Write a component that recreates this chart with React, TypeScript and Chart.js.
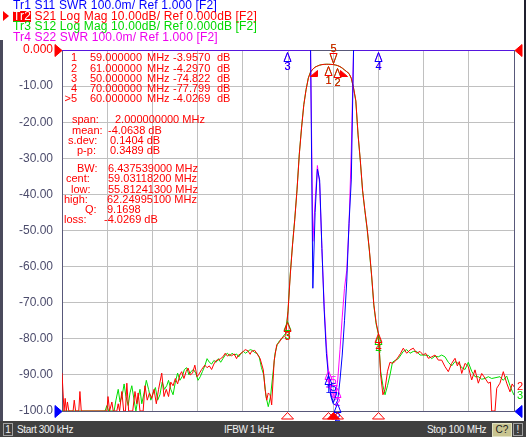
import React, { useEffect, useRef } from "react";
import { Chart, registerables } from "chart.js";

Chart.register(...registerables);

// ---------- axis setup ----------
const START_MHZ = 0.3;
const STOP_MHZ = 100;
const X_DIVISIONS = 10;
const DB_MIN = -100;
const DB_MAX = 0;
const DB_STEP = 10;
const SWR_MIN = 1;
const SWR_MAX = 2;

const yTickLabels = ["0.000", "-10.00", "-20.00", "-30.00", "-40.00", "-50.00", "-60.00", "-70.00", "-80.00", "-90.00", "-100.0"];

// ---------- traces: [frequency MHz, value] ----------
const s21Trace: number[][] = [
  [0.3, -89.5], [0.75, -100], [1.0, -96.5], [1.25, -100], [1.5, -97.5], [1.8, -100], [2.75, -100], [3.0, -97], [3.3, -100],
  [4.0, -100], [4.25, -94.6], [4.55, -100], [10.2, -100], [10.45, -96], [10.8, -100], [11.3, -97.5], [11.6, -100], [12.4, -100],
  [12.7, -98], [13.0, -100], [13.5, -94.6], [13.9, -100], [14.3, -100], [14.6, -92.3], [15.0, -100], [15.9, -100], [16.4, -94.6],
  [16.8, -98], [17.1, -95], [17.5, -100], [18.2, -100], [18.6, -93], [19.1, -97], [19.6, -95], [20.1, -96.5], [20.6, -94],
  [21.1, -98], [21.6, -94], [22.3, -89.5], [22.8, -96], [23.3, -94], [23.8, -96], [24.3, -92], [24.8, -93], [25.3, -91],
  [25.8, -92.5], [26.3, -90], [26.7, -89.1], [27.2, -91], [27.7, -89], [28.1, -88.1], [28.6, -90], [29.1, -89.5], [29.6, -87.3],
  [30.1, -90.5], [30.5, -89.8], [31.1, -88.5], [31.8, -87.3], [32.3, -88], [32.8, -87.5], [33.3, -88.5], [33.8, -87], [34.3, -86],
  [34.7, -85.9], [35.3, -85.5], [35.8, -85], [36.3, -84], [36.8, -84.8], [37.3, -84.3], [37.7, -84.7], [38.3, -84.2], [38.8, -85.5],
  [39.1, -84.7], [39.8, -84], [40.3, -83.5], [40.7, -83], [41.3, -83.3], [41.8, -84.3], [42.1, -83.5], [42.8, -83.2], [43.5, -84.5],
  [44.0, -85.5], [44.7, -88.6], [45.1, -94], [45.45, -97], [45.8, -95], [46.2, -95.5], [46.55, -98.3], [47.1, -86], [47.66, -81.7],
  [48.2, -81], [48.76, -79.8], [49.15, -79.5], [49.65, -79], [50.15, -72.5], [50.65, -62.3], [51.15, -54], [51.64, -47], [52.14, -38.8],
  [52.64, -29], [53.14, -21.6], [53.64, -15.2], [54.14, -11], [54.64, -7.8], [55.13, -6.1], [55.63, -5.3], [56.13, -4.75], [56.63, -4.45],
  [57.13, -4.2], [57.63, -4.05], [58.13, -3.98], [58.62, -3.95], [59.12, -3.96], [59.62, -3.99], [60.12, -4.03], [60.62, -4.15],
  [61.12, -4.33], [61.62, -4.6], [62.11, -5.0], [62.61, -5.5], [63.11, -6.0], [63.61, -6.5], [64.11, -7.8], [64.61, -10.5],
  [65.11, -14], [65.61, -23.5], [66.1, -30.5], [66.6, -38.8], [67.1, -44.3], [67.6, -49.3], [68.1, -55.4], [68.59, -62.3],
  [69.09, -70.6], [69.59, -75.5], [70.09, -78.5], [70.59, -90], [71.09, -95.5], [71.55, -94], [72.1, -89], [72.65, -86.5],
  [73.2, -86.8], [73.75, -86.3], [74.48, -85], [75.0, -84], [75.58, -82.6], [76.33, -84], [77.06, -83.1], [77.79, -82.6],
  [78.54, -84], [79.27, -83.5], [80.0, -84.5], [80.5, -84], [81.1, -85.4], [81.85, -85], [82.58, -84.5], [83.3, -85.9],
  [84.05, -85.9], [84.78, -87.7], [85.51, -89.1], [86.26, -86.8], [86.99, -85.4], [87.5, -87.5], [87.94, -86.3], [88.47, -89.6],
  [89.2, -86.8], [89.92, -87.7], [90.67, -91.4], [91.4, -88.6], [92.13, -92.3], [92.88, -89.6], [93.6, -90.9], [94.33, -92.3],
  [94.8, -92], [95.08, -100], [95.81, -100], [96.19, -93.7], [96.9, -92.3], [97.64, -89.1], [98.39, -92.3], [99.12, -94.7],
  [99.6, -92.5], [100, -93.3],
];

const s12Trace: number[][] = [
  [0.3, -100], [9.8, -100], [10.2, -98.5], [10.6, -100], [11.8, -100], [12.2, -97], [12.7, -94], [13.1, -97.5], [13.6, -95.5],
  [14.0, -92.5], [14.4, -96], [14.9, -98.5], [15.3, -95], [15.7, -93], [16.2, -97], [16.6, -100], [17.0, -97], [17.5, -94],
  [17.9, -98], [18.4, -95], [18.9, -91.5], [19.4, -94], [19.9, -97], [20.4, -95], [20.9, -93.5], [21.4, -97], [21.9, -95.5],
  [22.4, -92], [22.9, -94], [23.4, -93], [23.8, -91.5], [24.3, -94], [24.8, -95.5], [25.3, -92], [25.8, -89.5], [26.3, -91.5],
  [26.8, -90.5], [27.3, -88.5], [27.8, -88], [28.3, -90], [28.8, -89], [29.3, -88.5], [29.8, -89.5], [30.3, -91.5], [30.8, -90.5],
  [31.3, -89], [31.8, -87.5], [32.3, -85.5], [32.8, -86.5], [33.3, -87], [33.8, -86], [34.3, -86.5], [34.8, -85.5], [35.3, -86.5],
  [35.8, -85.5], [36.3, -84.5], [36.8, -84], [37.3, -84.8], [37.8, -84], [38.3, -84.5], [38.8, -84.2], [39.3, -85], [39.8, -84],
  [40.3, -83.5], [40.8, -84], [41.3, -83.5], [41.8, -83], [42.3, -83.2], [42.8, -83.8], [43.3, -84], [43.8, -85], [44.3, -88],
  [44.8, -90], [45.3, -96], [45.8, -98.8], [46.3, -96], [46.8, -90], [47.3, -84], [47.8, -81.5], [48.3, -80.5], [48.8, -80],
  [49.15, -79.2], [49.65, -78.5], [50.15, -72.2], [50.65, -62], [51.15, -53.8], [51.64, -46.8], [52.14, -38.6], [52.64, -28.8],
  [53.14, -21.5], [53.64, -15.1], [54.14, -10.9], [54.64, -7.7], [55.13, -6.05], [55.63, -5.28], [56.13, -4.74], [56.63, -4.44],
  [57.13, -4.19], [57.63, -4.05], [58.13, -3.98], [58.62, -3.95], [59.12, -3.96], [59.62, -3.99], [60.12, -4.03], [60.62, -4.16],
  [61.12, -4.34], [61.62, -4.62], [62.11, -5.02], [62.61, -5.52], [63.11, -6.02], [63.61, -6.55], [64.11, -7.85], [64.61, -10.6],
  [65.11, -14.2], [65.61, -23.6], [66.1, -30.7], [66.6, -39], [67.1, -44.5], [67.6, -49.6], [68.1, -55.7], [68.59, -62.6],
  [69.09, -70.8], [69.59, -75.9], [70.09, -78.8], [70.59, -89], [71.09, -93], [71.55, -95.5], [72.1, -93], [72.65, -90],
  [73.2, -86.5], [73.75, -86], [74.48, -85.5], [75.58, -83.5], [76.33, -83], [77.06, -84], [77.79, -83.5], [78.54, -83.5],
  [79.27, -84.5], [80.0, -84.5], [81.1, -84.6], [81.85, -85.5], [82.58, -84.8], [83.3, -85], [84.05, -84.5], [84.78, -85],
  [85.51, -86.5], [86.26, -87.5], [86.99, -86.3], [87.94, -87], [88.47, -88], [89.2, -88.5], [89.92, -86.5], [90.67, -89],
  [91.4, -90.5], [92.13, -90.5], [92.88, -91.2], [93.6, -91], [94.33, -90.5], [95.08, -91], [95.81, -90.8], [96.9, -90.5],
  [97.64, -91.5], [98.39, -90.3], [99.12, -93], [99.6, -94.5], [100, -95.6],
];

const s11Trace: number[][] = [
  [0.3, 2.0], [54.64, 2.0], [55.13, 2.0], [55.63, 1.34], [56.13, 1.55], [56.63, 1.67], [57.13, 1.64], [57.63, 1.45],
  [58.13, 1.28], [58.62, 1.16], [59.12, 1.09], [59.62, 1.04], [60.12, 1.02], [60.62, 1.017], [61.12, 1.03], [61.62, 1.086],
  [62.11, 1.155], [62.61, 1.25], [63.11, 1.36], [63.61, 1.52], [64.11, 1.64], [64.61, 2.0], [100, 2.0],
];

const s22Trace: number[][] = [
  [0.3, 2.0], [55.13, 2.0], [55.63, 1.47], [56.13, 1.58], [56.63, 1.68], [57.13, 1.63], [57.63, 1.45], [58.13, 1.29],
  [58.62, 1.18], [59.12, 1.1], [59.62, 1.05], [60.12, 1.036], [60.62, 1.044], [61.12, 1.086], [61.62, 1.17], [62.11, 1.26],
  [62.61, 1.34], [63.11, 1.39], [63.61, 1.515], [64.11, 1.72], [64.61, 2.0], [100, 2.0],
];

// ---------- markers ----------
const markerNames = ["1", "2", "3", "4", "5"];
const markerFreqMHz = [59, 61, 50, 70, 60];
const activeMarker = 4;
const s21MarkerDb = [-3.957, -4.297, -74.822, -77.799, -4.0269];
const s12MarkerDb = [-3.96, -4.31, -74.6, -78.3, -4.03];
const s11MarkerSwr = [1.105, 1.027, 2.0, 2.0, 1.02];
const s22MarkerSwr = [1.12, 1.07, 2.0, 2.0, 1.04];

const statLabels = ["span:", "mean:", "s.dev:", "p-p:"];
const statValues = ["2.000000000 MHz", "-4.0638 dB", "0.1404 dB", "0.3489 dB"];
const bwLabels = ["BW:", "cent:", "low:", "high:", "Q:", "loss:"];
const bwValues = ["6.437539000 MHz", "59.03118200 MHz", "55.81241300 MHz", "62.24995100 MHz", "9.1698", "-4.0269 dB"];
const bwLowMHz = 55.812413;
const bwHighMHz = 62.249951;
const bwLevelDb = -7.0269;

const headerLines = [
  { tr: "Tr1", text: " S11 SWR 100.0m/ Ref 1.000 [F2]", color: "#0000ff" },
  { tr: "Tr2", text: " S21 Log Mag 10.00dB/ Ref 0.000dB [F2]", color: "#ff0000" },
  { tr: "Tr3", text: " S12 Log Mag 10.00dB/ Ref 0.000dB [F2]", color: "#00d800" },
  { tr: "Tr4", text: " S22 SWR 100.0m/ Ref 1.000 [F2]", color: "#ee00ee" },
];

// ---------- styles ----------
const C_BLUE = "#0000ff";
const C_RED = "#ff0000";
const C_GREEN = "#00dd00";
const C_MAGENTA = "#ff00ff";
const GRID = "#c0c0c0";
const FRAME = "#58587a";
const TICK = "#4c4c6c";
const FONT = '"Liberation Sans", Arial, sans-serif';

function drawTri(ctx: CanvasRenderingContext2D, pts: number[][], color: string, filled: boolean) {
  ctx.beginPath();
  ctx.moveTo(pts[0][0], pts[0][1]);
  for (let i = 1; i < pts.length; i++) ctx.lineTo(pts[i][0], pts[i][1]);
  ctx.closePath();
  if (filled) {
    ctx.fillStyle = color;
    ctx.fill();
  }
  ctx.strokeStyle = color;
  ctx.lineWidth = 1;
  ctx.stroke();
}

function drawMarkerSet(chart: any, values: number[], axisId: string, color: string) {
  const { ctx, chartArea: a } = chart;
  const xs = chart.scales.x;
  const ys = chart.scales[axisId];
  ctx.font = `11px ${FONT}`;
  ctx.textAlign = "center";
  ctx.textBaseline = "middle";
  values.forEach((v, i) => {
    const px = Math.round(xs.getPixelForValue(markerFreqMHz[i])) + 0.5;
    const py = Math.round(Math.min(Math.max(ys.getPixelForValue(v), a.top), a.bottom)) + 0.5;
    if (i === activeMarker) {
      drawTri(ctx, [[px - 3.5, py - 12], [px + 3.5, py - 12], [px, py - 2]], color, false);
      ctx.fillStyle = color;
      ctx.fillText(markerNames[i], px, py - 17);
    } else {
      drawTri(ctx, [[px, py + 2], [px - 3.5, py + 11], [px + 3.5, py + 11]], color, false);
      ctx.fillStyle = color;
      ctx.fillText(markerNames[i], px, py + 16);
    }
  });
}

const vnaPlugin = {
  id: "vnaOverlay",
  beforeDatasetsDraw(chart: any) {
    const { ctx, chartArea: a } = chart;
    ctx.save();
    ctx.strokeStyle = FRAME;
    ctx.lineWidth = 1;
    ctx.strokeRect(a.left + 0.5, a.top + 0.5, a.right - a.left, a.bottom - a.top);
    ctx.restore();
  },
  afterDatasetsDraw(chart: any) {
    const { ctx, chartArea: a } = chart;
    const xs = chart.scales.x;
    const yDb = chart.scales.y;
    const ySwr = chart.scales.swr;
    ctx.save();

    drawMarkerSet(chart, s12MarkerDb, "y", C_GREEN);
    drawMarkerSet(chart, s22MarkerSwr, "swr", C_MAGENTA);
    drawMarkerSet(chart, s11MarkerSwr, "swr", C_BLUE);
    drawMarkerSet(chart, s21MarkerDb, "y", C_RED);

    // bandwidth markers (filled)
    [bwLowMHz, bwHighMHz].forEach((f, k) => {
      const px = Math.round(xs.getPixelForValue(f)) + 0.5;
      const py = Math.round(yDb.getPixelForValue(bwLevelDb)) + 0.5;
      const pts = k === 0
        ? [[px + 3, py - 5], [px + 3, py + 1], [px - 4, py + 1]]
        : [[px - 3, py - 5], [px - 3, py + 1], [px + 4, py + 1]];
      drawTri(ctx, pts, C_RED, true);
    });

    // marker indicators below the grid
    markerFreqMHz.forEach((f, i) => {
      const px = Math.round(xs.getPixelForValue(f)) + 0.5;
      const top = a.bottom + 1.5;
      drawTri(ctx, [[px, top], [px - 6, top + 6.5], [px + 6, top + 6.5]], C_RED, i === activeMarker);
    });

    // reference level pointers
    const yRef = Math.round(yDb.getPixelForValue(DB_MAX)) + 0.5;
    const ySwrRef = Math.round(ySwr.getPixelForValue(SWR_MIN)) + 0.5;
    drawTri(ctx, [[a.left - 7, yRef - 6], [a.left - 7, yRef + 6], [a.left, yRef]], C_RED, true);
    drawTri(ctx, [[a.right + 8, yRef - 6], [a.right + 8, yRef + 6], [a.right + 1, yRef]], C_RED, true);
    drawTri(ctx, [[a.left - 7, ySwrRef - 6], [a.left - 7, ySwrRef + 6], [a.left, ySwrRef]], C_BLUE, true);
    drawTri(ctx, [[a.right + 8, ySwrRef - 6], [a.right + 8, ySwrRef + 6], [a.right + 1, ySwrRef]], C_BLUE, true);

    // trace end labels
    ctx.font = `11px ${FONT}`;
    ctx.textAlign = "center";
    ctx.textBaseline = "middle";
    const lastRed = s21Trace[s21Trace.length - 1][1];
    const lastGreen = s12Trace[s12Trace.length - 1][1];
    ctx.fillStyle = C_RED;
    ctx.fillText("2", a.right + 6, yDb.getPixelForValue(lastRed));
    ctx.fillStyle = C_GREEN;
    ctx.fillText("3", a.right + 6, yDb.getPixelForValue(lastGreen) + 1);
    ctx.restore();
  },
};

const toPts = (arr: number[][]) => arr.map(([x, y]) => ({ x, y }));

function Txt(props: { x: number; cy: number; color: string; children: React.ReactNode; right?: boolean; size?: number; spacing?: number }) {
  const { x, cy, color, right, size = 11, spacing = 0 } = props;
  const style: React.CSSProperties = {
    position: "absolute",
    top: cy - 6,
    lineHeight: "12px",
    fontSize: size,
    color,
    whiteSpace: "pre",
    fontFamily: FONT,
    letterSpacing: spacing,
  };
  if (right) style.right = 526 - x;
  else style.left = x;
  return <div style={style}>{props.children}</div>;
}

export default function App() {
  const canvasRef = useRef<HTMLCanvasElement | null>(null);

  useEffect(() => {
    document.body.style.margin = "0";
    const canvas = canvasRef.current;
    if (!canvas) return;
    const base = { borderWidth: 1, pointRadius: 0, tension: 0, fill: false };
    const chart = new Chart(canvas, {
      type: "line",
      data: {
        datasets: [
          { ...base, label: "S11", data: toPts(s11Trace), yAxisID: "swr", borderColor: C_BLUE, order: 0 },
          { ...base, label: "S21", data: toPts(s21Trace), yAxisID: "y", borderColor: C_RED, order: 1 },
          { ...base, label: "S22", data: toPts(s22Trace), yAxisID: "swr", borderColor: C_MAGENTA, order: 2 },
          { ...base, label: "S12", data: toPts(s12Trace), yAxisID: "y", borderColor: C_GREEN, order: 3 },
        ],
      },
      options: {
        responsive: false,
        animation: false,
        devicePixelRatio: 1,
        events: [],
        layout: { padding: { left: 0, top: 50, right: 12, bottom: 26 } },
        plugins: { legend: { display: false }, tooltip: { enabled: false } },
        scales: {
          x: {
            type: "linear",
            min: START_MHZ,
            max: STOP_MHZ,
            ticks: { display: false },
            grid: { color: GRID, drawTicks: false },
            border: { display: false },
            afterBuildTicks: (s: any) => {
              s.ticks = Array.from({ length: X_DIVISIONS + 1 }, (_, i) => ({
                value: START_MHZ + ((STOP_MHZ - START_MHZ) * i) / X_DIVISIONS,
              }));
            },
            afterFit: (s: any) => {
              s.height = 0;
            },
          },
          y: {
            type: "linear",
            position: "left",
            min: DB_MIN,
            max: DB_MAX,
            ticks: {
              stepSize: DB_STEP,
              padding: 9,
              autoSkip: false,
              font: { family: "Liberation Sans", size: 12 },
              color: (c: any) => (c.tick && c.tick.value === DB_MAX ? C_RED : TICK),
              callback: (v: any) => yTickLabels[Math.round((DB_MAX - Number(v)) / DB_STEP)],
            },
            grid: { color: GRID, drawTicks: false },
            border: { display: false },
            afterFit: (s: any) => {
              s.width = 62;
            },
          },
          swr: { type: "linear", position: "right", min: SWR_MIN, max: SWR_MAX, display: false },
        },
      } as any,
      plugins: [vnaPlugin as any],
    });
    return () => chart.destroy();
  }, []);

  const headerCy = [4.5, 15.8, 26.3, 36.5];
  const markerCy = markerNames.map((_, i) => 57.4 + 10.25 * i);
  const statCy = [119.4, 129.8, 139.7, 149.5];
  const statLabelX = [72, 72, 68, 77];
  const statValueX = [115, 108, 110, 110];
  const bwCy = [167.7, 178.3, 189, 199.3, 209.2, 219.2];
  const bwLabelX = [77, 66, 71, 64, 85, 64];
  const bwValueX = [108, 108, 108, 107, 107, 104];

  return (
    <div style={{ position: "relative", width: 526, height: 437, background: "#ffffff", overflow: "hidden", fontFamily: FONT }}>
      <canvas ref={canvasRef} width={526} height={437} style={{ position: "absolute", left: 0, top: 0, width: 526, height: 437 }} />

      {/* window edges */}
      <div style={{ position: "absolute", left: 0, top: 40, width: 3, height: 381, background: "#4a4a5c" }} />
      <div style={{ position: "absolute", left: 524, top: 0, width: 2, height: 421, background: "#20202e" }} />

      {/* header */}
      <div style={{ position: "absolute", left: 3, top: 11, width: 0, height: 0, borderTop: "5px solid transparent", borderBottom: "5px solid transparent", borderLeft: "6px solid #ff0000" }} />
      {headerLines.map((h, i) => (
        <Txt key={h.tr} x={13} cy={headerCy[i]} color={h.color} size={12} spacing={0.15}>
          {i === 1 ? (
            <span style={{ background: "#ff0000", color: "#ffffff", display: "inline-block", lineHeight: "11px" }}>{h.tr}</span>
          ) : (
            h.tr
          )}
          {h.text}
        </Txt>
      ))}

      {/* marker table */}
      {markerNames.map((n, i) => (
        <React.Fragment key={"m" + n}>
          <Txt x={77} cy={markerCy[i]} color={C_RED} right>
            {i === activeMarker ? ">" + n : n}
          </Txt>
          <Txt x={90} cy={markerCy[i]} color={C_RED}>{markerFreqMHz[i].toFixed(6)}</Txt>
          <Txt x={147} cy={markerCy[i]} color={C_RED}>MHz</Txt>
          <Txt x={173} cy={markerCy[i]} color={C_RED}>{s21MarkerDb[i].toPrecision(5)}</Txt>
          <Txt x={217} cy={markerCy[i]} color={C_RED}>dB</Txt>
        </React.Fragment>
      ))}
      {statLabels.map((l, i) => (
        <React.Fragment key={"s" + l}>
          <Txt x={statLabelX[i]} cy={statCy[i]} color={C_RED}>{l}</Txt>
          <Txt x={statValueX[i]} cy={statCy[i]} color={C_RED}>{statValues[i]}</Txt>
        </React.Fragment>
      ))}
      {bwLabels.map((l, i) => (
        <React.Fragment key={"b" + l}>
          <Txt x={bwLabelX[i]} cy={bwCy[i]} color={C_RED}>{l}</Txt>
          <Txt x={bwValueX[i]} cy={bwCy[i]} color={C_RED}>{bwValues[i]}</Txt>
        </React.Fragment>
      ))}

      {/* status bar */}
      <div style={{ position: "absolute", left: 0, top: 421, width: 526, height: 16, background: "#404040" }} />
      <div style={{ position: "absolute", left: 3, top: 423, width: 8, height: 11, border: "1px solid #a0a0a0", color: "#f0f0f0", fontSize: 10, lineHeight: "11px", textAlign: "center" }}>1</div>
      <Txt x={17} cy={430} color="#f0f0f0" size={10} spacing={-0.35}>Start 300 kHz</Txt>
      <Txt x={224} cy={430} color="#f0f0f0" size={10} spacing={-0.35}>IFBW 1 kHz</Txt>
      <Txt x={427} cy={430} color="#f0f0f0" size={10} spacing={-0.35}>Stop 100 MHz</Txt>
      <div style={{ position: "absolute", left: 492, top: 423, width: 18, height: 12, background: "#c8c490", border: "1px solid #e0e0c0", color: "#202020", fontSize: 10, lineHeight: "12px", textAlign: "center" }}>C?</div>
      <div style={{ position: "absolute", left: 513, top: 423, width: 8, height: 11, border: "1px solid #a0a0a0", color: "#f0f0f0", fontSize: 10, lineHeight: "11px", textAlign: "center" }}>!</div>
    </div>
  );
}
